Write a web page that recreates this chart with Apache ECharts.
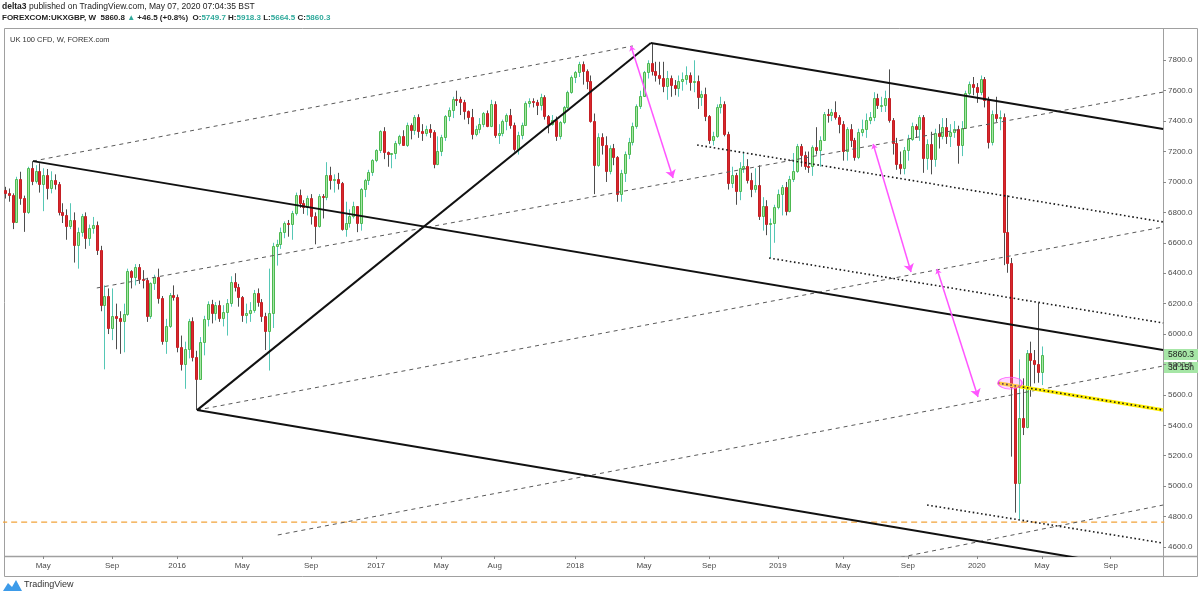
<!DOCTYPE html>
<html>
<head>
<meta charset="utf-8">
<title>UK 100 CFD, W, FOREX.com</title>
<script src="https://cdn.jsdelivr.net/npm/echarts@6/dist/echarts.min.js"></script>
<style>
html, body { margin: 0; padding: 0; background: #ffffff; }
#chart { width: 1200px; height: 597px; }
</style>
</head>
<body>
<div id="chart"></div>
<script>
// ============================================================
// UK 100 CFD weekly candles + hand drawn trend lines
// bar i = week starting 2015-02-23 + i weeks
// ============================================================

const firstWeek = '2015-02-23';

const opens = [
    6946,6929,6911,6740,7022,6895,6800,7089,7005,7070,
    6986,7047,6960,7013,6984,6804,6784,6710,6753,6585,
    6673,6775,6631,6696,6719,6550,6188,6247,6042,6118,
    6104,6085,6130,6416,6378,6444,6361,6353,6118,6334,
    6375,6238,5952,6052,6254,6242,5912,5804,5900,6083,
    5848,5707,5950,6097,6199,6139,6190,6106,6146,6204,
    6343,6310,6242,6125,6138,6156,6271,6209,6116,6021,
    6138,6577,6590,6669,6730,6724,6793,6916,6859,6838,
    6894,6777,6710,6909,6899,7044,7013,7020,6996,6693,
    6730,6775,6840,6730,6954,7011,7068,7142,7210,7337,
    7198,7184,7188,7258,7299,7243,7374,7343,7425,7336,
    7323,7349,7328,7115,7204,7298,7435,7471,7548,7547,
    7527,7464,7424,7313,7351,7378,7453,7368,7511,7310,
    7324,7401,7439,7377,7215,7310,7373,7522,7535,7523,
    7505,7560,7433,7380,7409,7300,7394,7490,7592,7688,
    7724,7778,7730,7665,7400,7110,7294,7244,7070,7224,
    7164,6922,7057,7184,7265,7369,7502,7567,7725,7779,
    7731,7702,7681,7634,7683,7637,7618,7662,7679,7701,
    7660,7667,7558,7577,7432,7277,7304,7490,7510,7318,
    6995,7049,6940,7094,7105,7013,6952,6980,6778,6845,
    6721,6728,6837,6918,6968,6809,7020,7071,7237,7178,
    7107,7104,7228,7208,7279,7447,7437,7459,7428,7380,
    7203,7348,7277,7161,7331,7345,7407,7425,7553,7506,
    7508,7550,7407,7253,7117,7095,7207,7282,7367,7345,
    7426,7155,7247,7150,7324,7302,7359,7302,7326,7347,
    7240,7353,7582,7644,7622,7590,7675,7540,7260,7450,
    7423,7430,6672,6464,5654,5023,5446,5391,5873,5829,
    5803,5749.7
];

const highs = [
    6968,6957,6925,7034,7067,6910,7100,7136,7110,7123,
    7090,7085,7070,7050,7000,6860,6820,6860,6800,6700,
    6790,6800,6720,6770,6740,6580,6320,6300,6300,6200,
    6150,6200,6430,6420,6460,6460,6420,6370,6340,6390,
    6430,6250,6100,6270,6320,6260,5990,5950,6100,6110,
    5890,5980,6120,6215,6225,6210,6220,6190,6230,6380,
    6400,6330,6250,6200,6210,6290,6300,6230,6140,6430,
    6600,6620,6700,6740,6750,6810,6930,6950,6880,6910,
    6920,6800,6920,6920,7130,7100,7050,7060,7000,6870,
    6820,6870,6840,6960,7020,7080,7150,7215,7340,7360,
    7200,7190,7270,7310,7340,7390,7385,7440,7445,7380,
    7370,7380,7340,7300,7310,7440,7490,7560,7600,7560,
    7540,7470,7480,7370,7420,7460,7470,7540,7530,7380,
    7410,7450,7480,7390,7330,7390,7530,7550,7550,7540,
    7580,7570,7440,7440,7430,7400,7500,7600,7700,7730,
    7790,7792,7740,7700,7450,7320,7320,7300,7240,7250,
    7170,7080,7200,7290,7390,7510,7600,7730,7800,7913,
    7790,7790,7790,7730,7700,7670,7700,7720,7760,7720,
    7800,7700,7600,7620,7440,7330,7510,7560,7530,7330,
    7100,7060,7130,7200,7150,7060,7090,7110,6900,6880,
    6760,6850,6950,6980,7000,7040,7190,7250,7250,7200,
    7200,7240,7360,7300,7460,7480,7480,7530,7440,7400,
    7360,7380,7290,7350,7410,7450,7460,7590,7580,7560,
    7600,7740,7420,7290,7200,7230,7310,7390,7380,7440,
    7440,7280,7330,7350,7380,7420,7420,7380,7400,7370,
    7400,7600,7660,7690,7650,7700,7690,7560,7470,7560,
    7470,7450,6913,6500,5665,5833,5709,5895,5950,5895,
    6206,5918.3
];

const lows = [
    6891,6870,6690,6730,6850,6672,6790,6979,6990,6930,
    6808,6885,6925,6950,6780,6730,6620,6690,6470,6430,
    6640,6560,6580,6660,6520,6150,5768,6000,5960,5900,
    5870,5880,6120,6300,6320,6330,6300,6080,6100,6290,
    6200,5930,5870,6040,6220,5880,5760,5640,5840,5820,
    5500,5700,5860,6050,6070,6090,6080,6050,5990,6180,
    6280,6180,6080,6070,6080,6140,6180,6080,5895,5760,
    6040,6450,6560,6630,6640,6620,6780,6830,6790,6780,
    6720,6590,6700,6760,6880,6950,6930,6950,6680,6640,
    6700,6760,6670,6680,6900,6980,7040,7130,7190,7150,
    7100,7090,7150,7240,7240,7230,7280,7310,7290,7270,
    7300,7290,7090,7110,7170,7270,7400,7420,7500,7440,
    7410,7380,7280,7300,7320,7360,7360,7360,7290,7250,
    7300,7340,7350,7200,7180,7280,7370,7490,7490,7440,
    7470,7410,7320,7370,7270,7280,7380,7480,7580,7650,
    7690,7640,7610,7390,6920,7100,7180,7000,7050,7110,
    6870,6870,7000,7150,7240,7350,7480,7560,7680,7700,
    7660,7640,7590,7540,7560,7570,7560,7600,7640,7600,
    7590,7480,7500,7400,7250,7240,7290,7450,7300,6950,
    6960,6850,6880,7060,6990,6900,6930,6750,6680,6650,
    6500,6600,6820,6780,6780,6800,7000,7060,7100,7080,
    7060,7040,7180,7100,7270,7390,7400,7410,7320,7140,
    7140,7230,7140,7150,7300,7290,7380,7400,7480,7460,
    7460,7390,7180,7080,7050,7050,7140,7270,7290,7270,
    7060,7080,7050,7100,7220,7280,7250,7230,7290,7120,
    7170,7350,7570,7570,7520,7570,7490,7220,7240,7395,
    7340,6453,6403,5194,4826,4782,5336,5380,5588,5676,
    5680,5664.5
];

const closes = [
    6929,6911,6740,7022,6895,6800,7089,7005,7070,6986,
    7047,6960,7013,6984,6804,6784,6710,6753,6585,6673,
    6775,6631,6696,6719,6550,6188,6247,6042,6118,6104,
    6085,6130,6416,6378,6444,6361,6353,6118,6334,6375,
    6238,5952,6052,6254,6242,5912,5804,5900,6083,5848,
    5707,5950,6097,6199,6139,6190,6106,6146,6204,6343,
    6310,6242,6125,6138,6156,6271,6209,6116,6021,6138,
    6577,6590,6669,6730,6724,6793,6916,6859,6838,6894,
    6777,6710,6909,6899,7044,7013,7020,6996,6693,6730,
    6775,6840,6730,6954,7011,7068,7142,7210,7337,7198,
    7184,7188,7258,7299,7243,7374,7343,7425,7336,7323,
    7349,7328,7115,7204,7298,7435,7471,7548,7547,7527,
    7464,7424,7313,7351,7378,7453,7368,7511,7310,7324,
    7401,7439,7377,7215,7310,7373,7522,7535,7523,7505,
    7560,7433,7380,7409,7300,7394,7490,7592,7688,7724,
    7778,7730,7665,7400,7110,7294,7244,7070,7224,7164,
    6922,7057,7184,7265,7369,7502,7567,7725,7779,7731,
    7702,7681,7634,7683,7637,7618,7662,7679,7701,7660,
    7667,7558,7577,7432,7277,7304,7490,7510,7318,6995,
    7049,6940,7094,7105,7013,6952,6980,6778,6845,6721,
    6728,6837,6918,6968,6809,7020,7071,7237,7178,7107,
    7104,7228,7208,7279,7447,7437,7459,7428,7380,7203,
    7348,7277,7161,7331,7345,7407,7425,7553,7506,7508,
    7550,7407,7253,7117,7095,7207,7282,7367,7345,7426,
    7155,7247,7150,7324,7302,7359,7302,7326,7347,7240,
    7353,7582,7644,7622,7590,7675,7540,7260,7450,7423,
    7430,6672,6464,5654,5023,5446,5391,5873,5829,5803,
    5750,5860.3
];

// time axis: bar index of each labelled week
const timeTickWeeks = [10, 28, 45, 62, 80, 97, 114, 128, 149, 167, 184, 202, 219, 236, 254, 271, 289];
const timeTickLabels = ['May', 'Sep', '2016', 'May', 'Sep', '2017', 'May', 'Aug', '2018', 'May', 'Sep', '2019', 'May', 'Sep', '2020', 'May', 'Sep'];
const priceTicks = [4600, 4800, 5000, 5200, 5400, 5600, 5800, 6000, 6200, 6400, 6600, 6800, 7000, 7200, 7400, 7600, 7800];

// drawings, as [week, price] pairs
const solidLines = [
    [[7.3, 7137], [302.7, 5895]],
    [[50.2, 5500], [168.8, 7913]],
    [[168.8, 7913], [302.7, 7348]],
    [[50.2, 5500], [302.7, 4434]]
];
const dashedLines = [
    [[7.3, 7137], [164.1, 7894]],
    [[24.0, 6303], [302.7, 7591]],
    [[50.2, 5500], [302.7, 6704]],
    [[71.3, 4679], [302.7, 5790]],
    [[230.0, 4512], [302.7, 4876]]
];
const dottedLines = [
    [[180.9, 7243], [302.7, 6737]],
    [[199.7, 6500], [302.7, 6073]],
    [[241.0, 4876], [302.7, 4626]]
];
const yellowLine = [[259.5, 5678], [302.7, 5501]];
const supportPrice = 4764;
const arrows = [
    [[163.6, 7894], [174.6, 7026]],
    [[226.9, 7250], [236.8, 6408]],
    [[243.6, 6428], [254.3, 5586]]
];
const ellipseCenter = [262.7, 5678];
const barCountdown = '3d 15h';

// ------------------------------------------------------------

const FONT = 'Liberation Sans, Arial, sans-serif';
const UP_FILL = '#a6e7a6', UP_EDGE = '#4cb850', UP_WICK = '#55c7b5';
const DN_FILL = '#d9272c', DN_EDGE = '#c41f24', DN_WICK = '#4d4d4d';
const TEAL = '#2fa99b';

const bars = closes.map((c, i) => [i, opens[i], c, lows[i], highs[i]]);
const last = bars.length - 1;

function renderCandle(params, api) {
    const i = api.value(0);
    const o = api.value(1), c = api.value(2), l = api.value(3), h = api.value(4);
    const up = c >= o;
    const top = api.coord([i, Math.max(o, c)]);
    const bot = api.coord([i, Math.min(o, c)]);
    const hi = api.coord([i, h]);
    const lo = api.coord([i, l]);
    const cx = Math.round(top[0]);
    const yTop = Math.round(top[1]) + 0.5;
    const yBot = Math.max(Math.round(bot[1]) + 0.5, yTop + 1);
    return {
        type: 'group',
        children: [{
            type: 'line',
            shape: { x1: cx + 0.5, y1: hi[1], x2: cx + 0.5, y2: lo[1] },
            style: { stroke: up ? UP_WICK : DN_WICK, lineWidth: 1 }
        }, {
            type: 'rect',
            shape: { x: cx - 0.5, y: yTop, width: 2, height: yBot - yTop },
            style: { fill: up ? UP_FILL : DN_FILL, stroke: up ? UP_EDGE : DN_EDGE, lineWidth: 1 }
        }]
    };
}

function segment(points, lineStyle, z) {
    return {
        type: 'line',
        data: points,
        symbol: 'none',
        silent: true,
        clip: true,
        z: z,
        lineStyle: lineStyle
    };
}

const series = [{
    type: 'custom',
    name: 'UK 100 CFD',
    renderItem: renderCandle,
    data: bars,
    encode: { x: 0, y: [1, 2, 3, 4] },
    clip: true,
    z: 2
}];

series.push(segment([[-1, supportPrice], [303, supportPrice]], { color: '#f2a33a', width: 1.2, type: [6, 4] }, 3));
dashedLines.forEach(l => series.push(segment(l, { color: '#5a5a5a', width: 1, type: [4, 4] }, 4)));
dottedLines.forEach(l => series.push(segment(l, { color: '#1a1a1a', width: 1.6, type: [1.6, 2.6] }, 4)));
series.push(segment(yellowLine, { color: '#ffee00', width: 3.5 }, 4));
series.push(segment(yellowLine, { color: '#1a1a1a', width: 1.6, type: [1.6, 2.6] }, 5));
solidLines.forEach(l => series.push(segment(l, { color: '#111111', width: 2 }, 5)));

series.push({
    type: 'lines',
    coordinateSystem: 'cartesian2d',
    data: arrows.map(a => ({ coords: a })),
    symbol: ['arrow', 'arrow'],
    symbolSize: [5, 8],
    silent: true,
    z: 6,
    lineStyle: { color: '#ff55ff', width: 1.5, opacity: 1, curveness: 0 }
});

series.push({
    type: 'scatter',
    data: [ellipseCenter],
    symbol: 'circle',
    symbolSize: [24, 12],
    silent: true,
    z: 7,
    itemStyle: { color: 'rgba(255, 110, 255, 0.35)', borderColor: '#ff44ff', borderWidth: 1 }
});

const chart = echarts.init(document.getElementById('chart'), null, { renderer: 'canvas' });

chart.setOption({
    animation: false,
    backgroundColor: '#ffffff',
    textStyle: { fontFamily: FONT },
    grid: { left: 4, right: 37, top: 28, bottom: 41, outerBoundsMode: 'none' },
    xAxis: {
        type: 'value',
        min: -0.26,
        max: 302.66,
        axisLine: { show: false, onZero: false },
        splitLine: { show: false },
        axisTick: { show: true, length: 3, customValues: timeTickWeeks, lineStyle: { color: '#8a8a8a' } },
        axisLabel: {
            customValues: timeTickWeeks,
            margin: 6,
            fontSize: 8,
            color: '#4a4a4a',
            fontFamily: FONT,
            formatter: v => timeTickLabels[timeTickWeeks.indexOf(Math.round(v))] || ''
        }
    },
    yAxis: {
        type: 'value',
        position: 'right',
        min: 4540.8,
        max: 8012.2,
        axisLine: { show: false, onZero: false },
        splitLine: { show: false },
        axisTick: { show: true, length: 3, customValues: priceTicks, lineStyle: { color: '#8a8a8a' } },
        axisLabel: {
            customValues: priceTicks,
            margin: 5,
            fontSize: 8,
            color: '#4a4a4a',
            fontFamily: FONT,
            formatter: v => v.toFixed(1)
        }
    },
    series: series
});

// overlay: header, frame, last price tags
const lastY = Math.round(chart.convertToPixel({ yAxisIndex: 0 }, closes[last]));
const change = 46.5;

chart.setOption({
    graphic: [
        {
            type: 'text', left: 2, top: 2,
            style: {
                text: '{b|delta3} published on TradingView.com, May 07, 2020 07:04:35 BST',
                fontSize: 8.5, fontFamily: FONT, fill: '#222',
                rich: { b: { fontWeight: 'bold', fontSize: 8.5, fill: '#222' } }
            }
        },
        {
            type: 'text', left: 2, top: 14,
            style: {
                text: '{b|FOREXCOM:UKXGBP, W}  {b|5860.8} {t|\u25B2} {b|+' + change.toFixed(1) + ' (+0.8%)}  ' +
                    '{b|O:}{t|' + opens[last].toFixed(1) + '} {b|H:}{t|' + highs[last].toFixed(1) + '} ' +
                    '{b|L:}{t|' + lows[last].toFixed(1) + '} {b|C:}{t|' + closes[last].toFixed(1) + '}',
                fontSize: 8, fontFamily: FONT, fill: '#222',
                rich: {
                    b: { fontWeight: 'bold', fontSize: 8, fill: '#222' },
                    t: { fontWeight: 'bold', fontSize: 8, fill: TEAL }
                }
            }
        },
        {
            type: 'text', left: 10, top: 36,
            style: { text: 'UK 100 CFD, W, FOREX.com', fontSize: 7.5, fontFamily: FONT, fill: '#333' }
        },
        {
            type: 'rect', silent: true,
            shape: { x: 4.5, y: 28.5, width: 1193, height: 548 },
            style: { fill: 'none', stroke: '#a0a0a0', lineWidth: 1 }
        },
        {
            type: 'line', silent: true,
            shape: { x1: 1163.5, y1: 28, x2: 1163.5, y2: 577 },
            style: { stroke: '#a0a0a0', lineWidth: 1 }
        },
        {
            type: 'line', silent: true,
            shape: { x1: 4, y1: 556.5, x2: 1198, y2: 556.5 },
            style: { stroke: '#a0a0a0', lineWidth: 1.5 }
        },
        {
            type: 'rect', silent: true,
            shape: { x: 1164, y: lastY - 6, width: 34, height: 11 },
            style: { fill: '#a6e6a6' }
        },
        {
            type: 'text', silent: true, x: 1181, y: lastY,
            style: { text: closes[last].toFixed(1), fontSize: 8.5, fontFamily: FONT, fill: '#1a1a1a', align: 'center', verticalAlign: 'middle' }
        },
        {
            type: 'rect', silent: true,
            shape: { x: 1164, y: lastY + 7, width: 34, height: 11 },
            style: { fill: '#a6e6a6' }
        },
        {
            type: 'text', silent: true, x: 1181, y: lastY + 13,
            style: { text: barCountdown, fontSize: 8.5, fontFamily: FONT, fill: '#1a1a1a', align: 'center', verticalAlign: 'middle' }
        },
        {
            type: 'polygon', silent: true,
            shape: { points: [[3, 591], [8, 583], [12, 587], [16, 580], [22, 591]] },
            style: { fill: '#3d9be9' }
        },
        {
            type: 'text', left: 24, top: 580,
            style: { text: 'TradingView', fontSize: 9, fontFamily: FONT, fill: '#333' }
        }
    ]
});

window.addEventListener('resize', () => chart.resize());
</script>
</body>
</html>
